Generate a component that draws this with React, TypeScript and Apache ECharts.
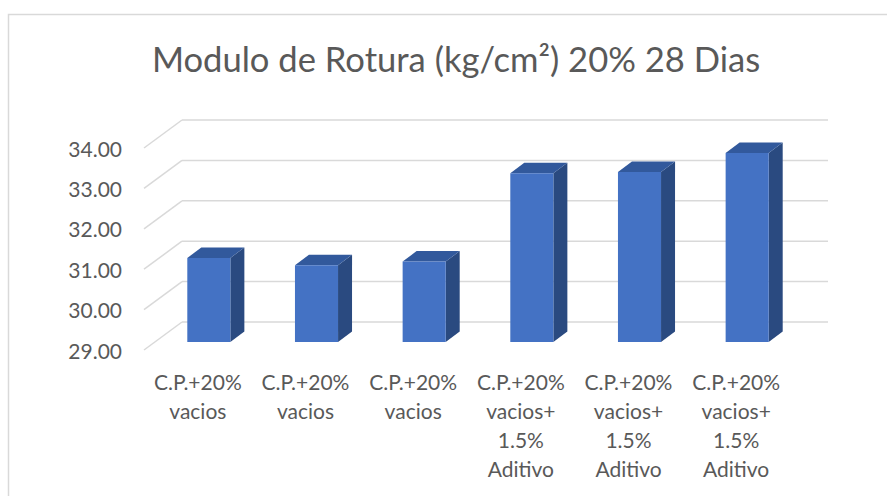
import React, { useEffect, useRef } from 'react';
import * as echarts from 'echarts';

const titleText = 'Modulo de Rotura (kg/cm²) 20% 28 Dias';
const categories = [
  'C.P.+20%\nvacios',
  'C.P.+20%\nvacios',
  'C.P.+20%\nvacios',
  'C.P.+20%\nvacios+\n1.5%\nAditivo',
  'C.P.+20%\nvacios+\n1.5%\nAditivo',
  'C.P.+20%\nvacios+\n1.5%\nAditivo',
];
const values = [31.08, 30.9, 30.99, 33.18, 33.21, 33.68];
const yTicks = [29, 30, 31, 32, 33, 34];

const FONT = 'Lato, "Open Sans", sans-serif';
const TEXT_COLOR = '#595959';
const GRID_COLOR = '#d9d9d9';
const FLOOR_DX = 38;
const FLOOR_DY = -28;
const BAR_OFF_X = 11;
const BAR_OFF_Y = -8;
const BAR_DX = 14;
const BAR_DY = -10.5;
const FRONT = '#4472C4';
const SIDE = '#2A4A80';
const TOP = '#32599C';

export default function App() {
  const ref = useRef<HTMLDivElement>(null);
  useEffect(() => {
    if (!ref.current) return;
    const chart = echarts.init(ref.current, undefined, { renderer: 'svg' });
    const yMin = yTicks[0];
    chart.setOption({
      animation: false,
      backgroundColor: '#ffffff',
      grid: { left: 144, right: 97, top: 148, bottom: 146, containLabel: false },
      graphic: [
        {
          type: 'rect',
          shape: { x: 8.5, y: 14.5, width: 1000, height: 1000 },
          style: { fill: 'none', stroke: GRID_COLOR, lineWidth: 1.5 },
          silent: true,
        },
        {
          type: 'text',
          x: 456,
          y: 58,
          style: {
            text: titleText,
            fill: TEXT_COLOR,
            font: `34.6px ${FONT}`,
            textAlign: 'center',
            textVerticalAlign: 'middle',
          },
        },
      ],
      xAxis: {
        type: 'category',
        data: categories,
        axisLine: { show: false },
        axisTick: { show: false },
        splitLine: { show: false },
        axisLabel: {
          color: TEXT_COLOR,
          fontFamily: FONT,
          fontSize: 21,
          lineHeight: 29,
          margin: 17,
          interval: 0,
        },
      },
      yAxis: {
        type: 'value',
        min: 29,
        max: 34,
        interval: 1,
        axisLine: { show: false },
        axisTick: { show: false },
        splitLine: { show: false },
        axisLabel: {
          color: TEXT_COLOR,
          fontFamily: FONT,
          fontSize: 21,
          margin: 22,
          formatter: (v: number) => v.toFixed(2),
        },
      },
      series: [
        {
          type: 'custom',
          z: 1,
          silent: true,
          data: yTicks.map((v) => [0, v]),
          encode: { x: 0, y: 1 },
          renderItem: (params: any, api: any) => {
            const cs = params.coordSys;
            const y = api.coord([0, api.value(1)])[1];
            const style = { stroke: GRID_COLOR, lineWidth: 1.5, fill: 'none' };
            return {
              type: 'group',
              children: [
                {
                  type: 'line',
                  shape: { x1: cs.x, y1: y, x2: cs.x + FLOOR_DX, y2: y + FLOOR_DY },
                  style,
                },
                {
                  type: 'line',
                  shape: {
                    x1: cs.x + FLOOR_DX,
                    y1: y + FLOOR_DY,
                    x2: cs.x + cs.width + FLOOR_DX,
                    y2: y + FLOOR_DY,
                  },
                  style,
                },
              ],
            };
          },
        },
        {
          type: 'custom',
          z: 2,
          data: values.map((v, i) => [i, v]),
          encode: { x: 0, y: 1 },
          renderItem: (params: any, api: any) => {
            const i = api.value(0);
            const v = api.value(1);
            const top = api.coord([i, v]);
            const base = api.coord([i, yMin]);
            const band = api.size([1, 0])[0];
            const w = band * 0.4;
            const x0 = top[0] + BAR_OFF_X - w / 2;
            const x1 = x0 + w;
            const yT = top[1] + BAR_OFF_Y;
            const yB = base[1] + BAR_OFF_Y;
            return {
              type: 'group',
              children: [
                {
                  type: 'polygon',
                  shape: {
                    points: [
                      [x1, yT],
                      [x1 + BAR_DX, yT + BAR_DY],
                      [x1 + BAR_DX, yB + BAR_DY],
                      [x1, yB],
                    ],
                  },
                  style: { fill: SIDE },
                },
                {
                  type: 'polygon',
                  shape: {
                    points: [
                      [x0, yT],
                      [x0 + BAR_DX, yT + BAR_DY],
                      [x1 + BAR_DX, yT + BAR_DY],
                      [x1, yT],
                    ],
                  },
                  style: { fill: TOP },
                },
                {
                  type: 'rect',
                  shape: { x: x0, y: yT, width: w, height: yB - yT },
                  style: { fill: FRONT },
                },
              ],
            };
          },
        },
      ],
    });
    return () => chart.dispose();
  }, []);
  return (
    <div
      ref={ref}
      style={{ position: 'fixed', left: 0, top: 0, width: 887, height: 496 }}
    />
  );
}
